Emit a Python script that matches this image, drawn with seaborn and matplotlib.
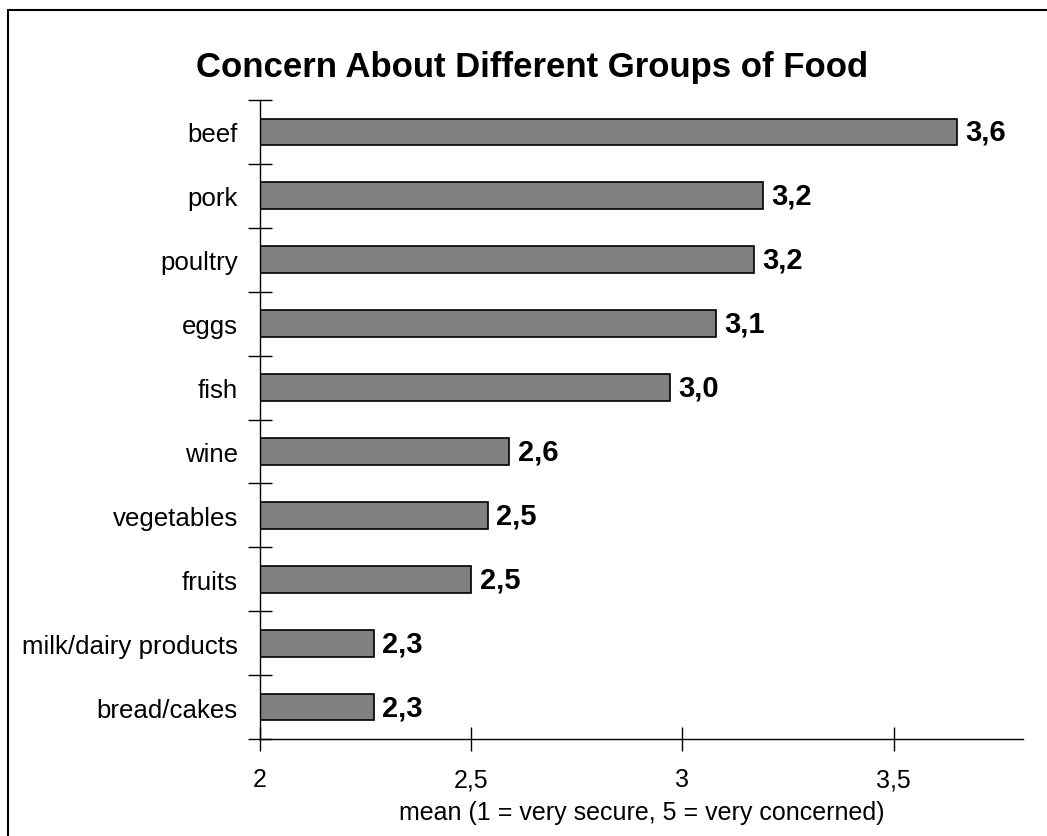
import matplotlib
matplotlib.use("Agg")
import matplotlib.pyplot as plt
import seaborn as sns
import pandas as pd
from matplotlib.patches import Rectangle
from matplotlib.ticker import FixedLocator

categories = ["beef", "pork", "poultry", "eggs", "fish", "wine", "vegetables",
              "fruits", "milk/dairy products", "bread/cakes"]
values = [3.65, 3.19, 3.17, 3.08, 2.97, 2.59, 2.54, 2.50, 2.27, 2.27]
value_labels = ["3,6", "3,2", "3,2", "3,1", "3,0", "2,6", "2,5", "2,5", "2,3", "2,3"]
xticks = [2, 2.5, 3, 3.5]
xtick_labels = ["2", "2,5", "3", "3,5"]

sns.set_theme(style="white")
plt.rcParams["font.family"] = ["Liberation Sans", "DejaVu Sans"]
plt.rcParams["text.color"] = "black"
plt.rcParams["axes.labelcolor"] = "black"
plt.rcParams["xtick.color"] = "black"
plt.rcParams["ytick.color"] = "black"

df = pd.DataFrame({"category": categories, "value": values})

fig = plt.figure(figsize=(10.47, 8.37), dpi=100)
ax = fig.add_axes([260 / 1047, 1 - 740 / 837, (1023 - 260) / 1047, (740 - 101) / 837])

sns.barplot(data=df, y="category", x="value", orient="h", color="#808080",
            saturation=1, edgecolor="black", linewidth=1.2, width=0.42, ax=ax)

ax.set_xlim(2, 3.806)
ax.set_ylim(9.5, -0.5)

for i, (v, lab) in enumerate(zip(values, value_labels)):
    ax.annotate(lab, xy=(v, i), xytext=(6, 0), textcoords="offset points",
                va="center", ha="left", fontsize=21, fontweight="bold", color="black")

ax.set_xticks(xticks)
ax.set_xticklabels(xtick_labels, fontsize=18)
ax.set_yticks(range(len(categories)))
ax.set_yticklabels(categories, fontsize=18.6)
ax.yaxis.set_minor_locator(FixedLocator([i - 0.5 for i in range(len(categories) + 1)]))

ax.tick_params(axis="y", which="major", length=0, pad=16, labelcolor="black")
ax.tick_params(axis="y", which="minor", left=True, direction="inout", length=17,
               width=1, color="black")
ax.tick_params(axis="x", which="major", bottom=True, direction="inout", length=17,
               width=1, color="black", pad=12, labelcolor="black")

ax.set_ylabel("")
ax.set_xlabel("mean (1 = very secure, 5 = very concerned)", fontsize=18, labelpad=6,
              color="black")

for s in ["top", "right"]:
    ax.spines[s].set_visible(False)
for s in ["left", "bottom"]:
    ax.spines[s].set_color("black")
    ax.spines[s].set_linewidth(1)

fig.text(532 / 1047, 1 - 67 / 837, "Concern About Different Groups of Food",
         ha="center", va="center", fontsize=25, fontweight="bold", color="black")

fig.patches.append(Rectangle((8 / 1047, -0.1), 1.2, 1 - 11 / 837 + 0.1,
                             transform=fig.transFigure, fill=False,
                             edgecolor="black", linewidth=1.5))

fig.savefig("out.png", dpi=100)
